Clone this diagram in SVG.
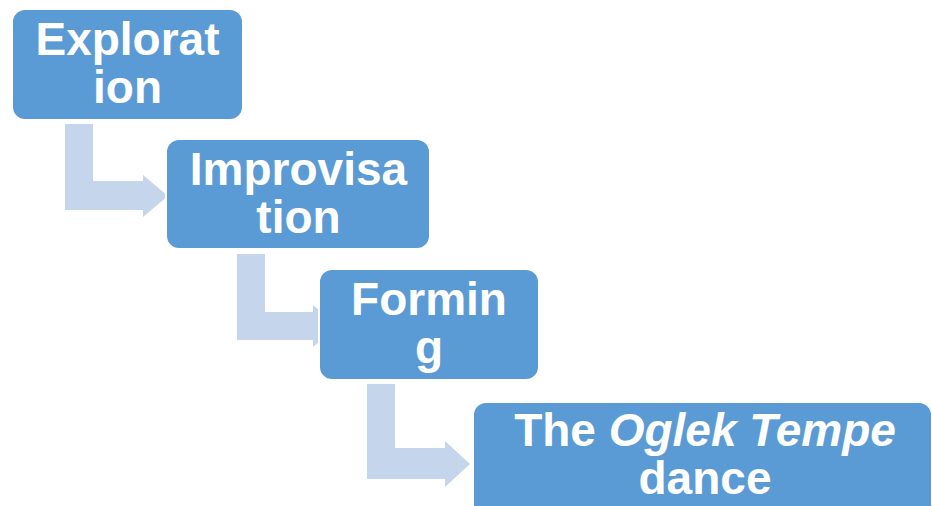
<svg xmlns="http://www.w3.org/2000/svg" width="932" height="506" viewBox="0 0 932 506">
  <style>
    .arrow { fill: #C5D6EC; }
    .box { fill: #5B9BD5; stroke: #FFFFFF; stroke-width: 2; }
    .label { font-family: "Liberation Sans", Arial, sans-serif; font-weight: bold; font-size: 46px; fill: #FFFFFF; text-anchor: middle; }
  </style>
  <rect x="0" y="0" width="932" height="506" fill="#FFFFFF"/>
  <g id="connectors">
    <path class="arrow" d="M65,124 H93 V181 H143 V175 L168,196 L143,217 V210 H65 Z"/>
    <path class="arrow" d="M237,254 H265 V312 H313 V305 L338,326 L313,347 V340 H237 Z"/>
    <path class="arrow" d="M367,384 H395 V448 H445 V441 L470,464 L445,487 V479 H367 Z"/>
  </g>
  <g id="node-exploration">
    <rect class="box" x="12" y="9" width="231" height="111" rx="13"/>
    <text class="label" x="127.5" y="55">Explorat</text>
    <text class="label" x="127.5" y="103">ion</text>
  </g>
  <g id="node-improvisation">
    <rect class="box" x="166" y="139" width="264" height="110" rx="13"/>
    <text class="label" x="298.5" y="185">Improvisa</text>
    <text class="label" x="298.5" y="233">tion</text>
  </g>
  <g id="node-forming">
    <rect class="box" x="319" y="269" width="220" height="111" rx="13"/>
    <text class="label" x="429" y="315">Formin</text>
    <text class="label" x="429" y="363">g</text>
  </g>
  <g id="node-dance">
    <rect class="box" x="473" y="402" width="459" height="124" rx="13"/>
    <text class="label" x="705" y="446">The <tspan font-style="italic">Oglek Tempe</tspan></text>
    <text class="label" x="705" y="494">dance</text>
  </g>
</svg>
